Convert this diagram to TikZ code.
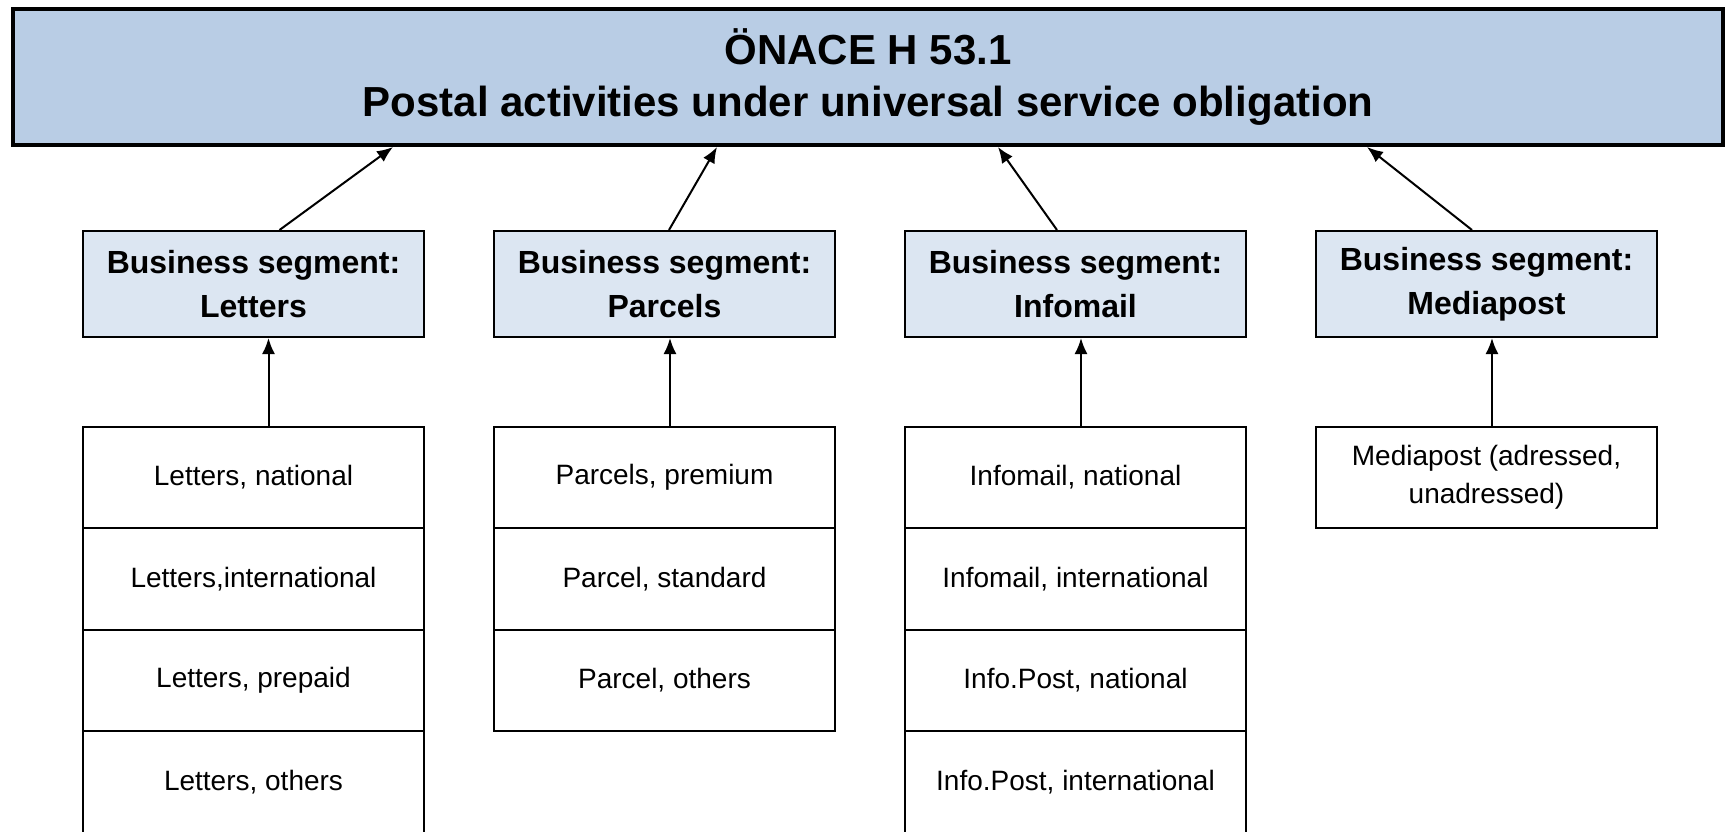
\documentclass[tikz,border=0pt]{standalone}
\usepackage{fontspec}
\setmainfont{Liberation Sans}
\usetikzlibrary{arrows.meta}

\definecolor{topblue}{RGB}{185,205,229}
\definecolor{segblue}{RGB}{220,230,242}

\tikzset{
  topbox/.style={draw, line width=4pt, fill=topblue, minimum width=1710pt, minimum height=136pt,
    inner sep=0pt, align=center, font=\fontsize{42}{52}\selectfont\bfseries},
  segbox/.style={draw, line width=2pt, fill=segblue, minimum width=341pt, minimum height=106pt,
    inner sep=0pt, align=center, font=\fontsize{32}{44}\selectfont\bfseries},
  itembox/.style={draw, line width=2pt, fill=white, minimum width=341pt, minimum height=101.5pt,
    inner sep=0pt, align=center, font=\fontsize{28}{38}\selectfont},
  arr/.style={line width=2pt, -{Latex[length=16pt,width=13pt]}},
}

\begin{document}
\begin{tikzpicture}[x=1pt,y=-1pt]
  \useasboundingbox (0,0) rectangle (1727,831);

  % top level
  \node[topbox] (onace) at (868,77) {ÖNACE H 53.1\\Postal activities under universal service obligation};

  % business segments
  \node[segbox] (segLetters) at (253.5,284) {Business segment:\\Letters};
  \node[segbox] (segParcels) at (664.5,284) {Business segment:\\Parcels};
  \node[segbox] (segInfomail) at (1075.5,284) {Business segment:\\Infomail};
  \node[segbox] (segMediapost) at (1486.5,284) {Business segment:\\Mediapost};

  % products
  \node[itembox] (letNat) at (253.5,477.5) {Letters, national};
  \node[itembox] (letInt) at (253.5,579) {Letters,international};
  \node[itembox] (letPre) at (253.5,680.5) {Letters, prepaid};
  \node[itembox] (letOth) at (253.5,782) {Letters, others};

  \node[itembox] (parPre) at (664.5,477.5) {Parcels, premium};
  \node[itembox] (parStd) at (664.5,579) {Parcel, standard};
  \node[itembox] (parOth) at (664.5,680.5) {Parcel, others};

  \node[itembox] (infNat) at (1075.5,477.5) {Infomail, national};
  \node[itembox] (infInt) at (1075.5,579) {Infomail, international};
  \node[itembox] (ipNat) at (1075.5,680.5) {Info.Post, national};
  \node[itembox] (ipInt) at (1075.5,782) {Info.Post, international};

  \node[itembox] (medAll) at (1486.5,477.5) {Mediapost (adressed,\\unadressed)};

  % segments to top
  \draw[arr] ([xshift=26pt]segLetters.north) -- ([xshift=-475pt]onace.south);
  \draw[arr] ([xshift=4.5pt]segParcels.north) -- ([xshift=-151pt]onace.south);
  \draw[arr] ([xshift=-18.5pt]segInfomail.north) -- ([xshift=130pt]onace.south);
  \draw[arr] ([xshift=-14.5pt]segMediapost.north) -- ([xshift=499pt]onace.south);

  % products to segments
  \draw[arr] ([xshift=15pt]letNat.north) -- ([xshift=15pt]segLetters.south);
  \draw[arr] ([xshift=5.5pt]parPre.north) -- ([xshift=5.5pt]segParcels.south);
  \draw[arr] ([xshift=5.5pt]infNat.north) -- ([xshift=5.5pt]segInfomail.south);
  \draw[arr] ([xshift=5.5pt]medAll.north) -- ([xshift=5.5pt]segMediapost.south);
\end{tikzpicture}
\end{document}
